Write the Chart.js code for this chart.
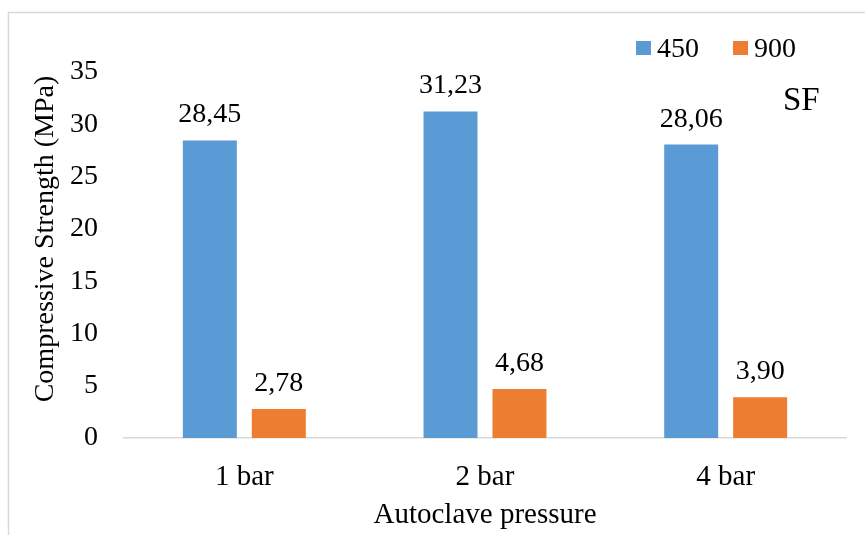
<!DOCTYPE html>
<html>
<head>
<meta charset="utf-8">
<script src="https://cdn.jsdelivr.net/npm/chart.js@4.4.1/dist/chart.umd.min.js"></script>
<style>
  html, body { margin: 0; padding: 0; background: #ffffff; }
  #wrap { width: 865px; height: 535px; position: relative; }
</style>
</head>
<body>
<div id="wrap"><canvas id="chart" width="865" height="535"></canvas></div>
<script>
// Compressive strength by autoclave pressure, two series (450 / 900)
const categories = ['1 bar', '2 bar', '4 bar'];
const seriesNames = ['450', '900'];
const values450 = [28.45, 31.23, 28.06];
const values900 = [2.78, 4.68, 3.90];
const yTicks = [0, 5, 10, 15, 20, 25, 30, 35];
const yTitle = 'Compressive Strength (MPa)';

const FONT = '"Liberation Serif", "Times New Roman", serif';
const BLUE = '#5B9BD5';
const ORANGE = '#ED7D31';
const LINE = '#d9d9d9';

// Frame lines, axis title, value labels, legend and the "SF" tag
const decorations = {
  id: 'decorations',
  beforeDraw(chart) {
    const ctx = chart.ctx;
    ctx.save();
    ctx.fillStyle = '#ffffff';
    ctx.fillRect(0, 0, chart.width, chart.height);
    ctx.strokeStyle = LINE;
    ctx.lineWidth = 1.5;
    ctx.beginPath();
    ctx.moveTo(8.5, chart.height + 5);
    ctx.lineTo(8.5, 12.5);
    ctx.lineTo(chart.width + 5, 12.5);
    ctx.stroke();

    // vertical axis title, sits a little above the plot's middle
    const area = chart.chartArea;
    ctx.translate(46, (area.top + area.bottom) / 2 - 16);
    ctx.rotate(-Math.PI / 2);
    ctx.fillStyle = '#000000';
    ctx.font = '28px ' + FONT;
    ctx.textAlign = 'center';
    ctx.textBaseline = 'middle';
    ctx.fillText(yTitle, 0, 0);
    ctx.restore();
  },
  afterDatasetsDraw(chart) {
    const ctx = chart.ctx;
    ctx.save();
    ctx.fillStyle = '#000000';
    ctx.font = '28px ' + FONT;
    ctx.textAlign = 'center';
    ctx.textBaseline = 'alphabetic';
    chart.data.datasets.forEach((ds, di) => {
      const meta = chart.getDatasetMeta(di);
      meta.data.forEach((bar, i) => {
        const label = ds.data[i].toFixed(2).replace('.', ',');
        ctx.fillText(label, bar.x, bar.y - 18);
      });
    });

    // legend row
    let x = 636;
    ctx.textAlign = 'left';
    chart.data.datasets.forEach(ds => {
      ctx.fillStyle = ds.backgroundColor;
      ctx.fillRect(x, 41, 15, 14);
      x += 21;
      ctx.fillStyle = '#000000';
      ctx.fillText(ds.label, x, 57);
      x += ctx.measureText(ds.label).width + 34;
    });

    ctx.font = '33px ' + FONT;
    ctx.fillText('SF', 783, 110);
    ctx.restore();
  }
};

new Chart(document.getElementById('chart'), {
  type: 'bar',
  data: {
    labels: categories,
    datasets: [
      { label: seriesNames[0], data: values450, backgroundColor: BLUE },
      { label: seriesNames[1], data: values900, backgroundColor: ORANGE }
    ]
  },
  options: {
    responsive: false,
    animation: false,
    devicePixelRatio: 1,
    layout: { padding: { left: 0, right: 19, top: 72, bottom: 0 } },
    datasets: {
      bar: { categoryPercentage: 0.573, barPercentage: 0.783 }
    },
    plugins: {
      legend: { display: false },
      tooltip: { enabled: false }
    },
    scales: {
      x: {
        grid: { display: false },
        border: { display: true, color: LINE, width: 1.5 },
        ticks: { color: '#000000', font: { family: FONT, size: 29 }, padding: 14 },
        title: {
          display: true,
          text: 'Autoclave pressure',
          color: '#000000',
          font: { family: FONT, size: 29 },
          padding: { top: 0, bottom: 2 }
        },
        afterFit(scale) { scale.height = 97; }
      },
      y: {
        min: 0,
        max: 35,
        grid: { display: false },
        border: { display: false },
        afterBuildTicks(scale) { scale.ticks = yTicks.map(v => ({ value: v })); },
        ticks: { color: '#000000', font: { family: FONT, size: 28 }, padding: 18 },
        title: { display: false },
        afterFit(scale) { scale.width = 124; }
      }
    }
  },
  plugins: [decorations]
});
</script>
</body>
</html>
